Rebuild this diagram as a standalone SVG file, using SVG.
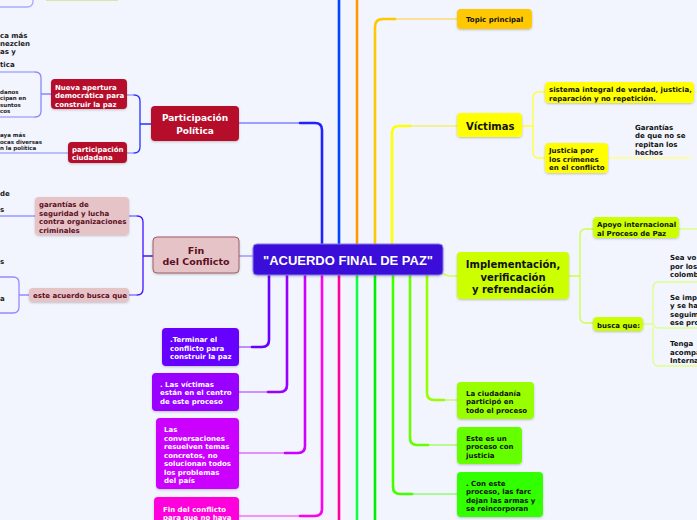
<svg xmlns="http://www.w3.org/2000/svg" width="697" height="520" viewBox="0 0 697 520">
<defs>
<filter id="sh" x="-10%" y="-10%" width="120%" height="130%"><feDropShadow dx="0" dy="1" stdDeviation="0.8" flood-color="#000" flood-opacity="0.22"/></filter>
</defs>
<style>
.t{font-family:"DejaVu Sans",Verdana,sans-serif;font-weight:bold;font-size:7px;fill:#111}
.w{fill:#fff}
.m{fill:#5b0f1f}
.big{font-size:10px}
.n rect{filter:url(#sh)}
.c{fill:none;stroke-linecap:round}
.k{stroke-width:2.6}
.l{stroke-width:1.4;opacity:.55}
.s{stroke-width:1.3}
.frag{font-family:"DejaVu Sans",Verdana,sans-serif;font-weight:bold;fill:#222}
</style>
<rect width="697" height="520" fill="#f2f5fd"/>

<g id="connectors">
<path class="c k" stroke="#2222ff" d="M322,244 V130 Q322,123 315,123 H300"/>
<path class="c l" stroke="#2222ff" d="M300,123 H239"/>
<path class="c k" stroke="#0044ff" d="M339,244 V0"/>
<path class="c k" stroke="#ff9900" d="M357,244 V0"/>
<path class="c k" stroke="#ffc800" d="M375,244 V27 Q375,19 383,19 H395"/>
<path class="c l" stroke="#ffc800" d="M395,19 H457"/>
<path class="c k" stroke="#ffff00" d="M392,244 V133 Q392,126 399,126 H410"/>
<path class="c l" stroke="#eeee00" d="M410,126 H457"/>
<path class="c s" stroke="#9999ff" d="M239,256 H253"/>
<path class="c s" stroke="#ccff55" d="M440,268 Q443,276 450,276 H457"/>
<path class="c k" stroke="#6600ff" d="M269,275 V340 Q269,347 262,347 H252"/>
<path class="c l" stroke="#6600ff" d="M252,347 H239"/>
<path class="c k" stroke="#9900ff" d="M287,275 V385 Q287,392 280,392 H268"/>
<path class="c l" stroke="#9900ff" d="M268,392 H239"/>
<path class="c k" stroke="#cc00ff" d="M305,275 V446 Q305,453 298,453 H285"/>
<path class="c l" stroke="#cc00ff" d="M285,453 H239"/>
<path class="c k" stroke="#ff00ee" d="M322,275 V509 Q322,516 315,516 H300"/>
<path class="c l" stroke="#ff00ee" d="M300,516 H239"/>
<path class="c k" stroke="#ff0099" d="M339,275 V520"/>
<path class="c k" stroke="#11ff44" d="M357,275 V520"/>
<path class="c k" stroke="#00ee00" d="M375,275 V520"/>
<path class="c k" stroke="#44ff00" d="M393,275 V487 Q393,494 400,494 H412"/>
<path class="c l" stroke="#44ff00" d="M412,494 H457"/>
<path class="c k" stroke="#66ff00" d="M410,275 V438 Q410,445 417,445 H428"/>
<path class="c l" stroke="#66ff00" d="M428,445 H457"/>
<path class="c k" stroke="#99ff00" d="M427,275 V393 Q427,400 434,400 H444"/>
<path class="c l" stroke="#99ff00" d="M444,400 H457"/>
<path class="c s" stroke="#2233ff" d="M151,124 H140 M134,95 Q140,95 140,101 V147 Q140,153 134,153"/>
<path class="c s" stroke="#8888ff" opacity=".8" d="M134,95 H127 M134,153 H127"/>
<path class="c s" stroke="#8888ff" d="M51,94 H41 M35,72 Q41,72 41,78 V111 Q41,117 35,117"/>
<path class="c s" stroke="#aaaaff" d="M35,72 H0 M35,117 H0 M68,153 H0"/>
<path class="c s" stroke="#aaaaff" d="M0,7 H27 Q33,7 33,1 V0"/>
<path class="c s" stroke="#4411ff" d="M153,256 H143 M137,216 Q143,216 143,222 V289 Q143,295 137,295"/>
<path class="c s" stroke="#8877ff" d="M137,216 H129 M137,295 H129"/>
<path class="c s" stroke="#9999ff" d="M35,216 H0"/>
<path class="c s" stroke="#9988ff" d="M29,295 H19 M0,277 H13 Q19,277 19,283 V307 Q19,313 13,313 H0"/>
<path class="c s" stroke="#ffff33" d="M522,126 H533 M539,92 Q533,92 533,98 V152 Q533,158 539,158 H545 M539,92 H545"/>
<path class="c s" stroke="#ffff88" d="M694,92 H697 M608,158 H690"/>
<path class="c s" stroke="#ccff44" d="M569,276 H580 M586,229 Q580,229 580,235 V317 Q580,323 586,323 H593 M586,229 H593"/>
<path class="c s" stroke="#ddff88" d="M679,229 H697 M643,324 H653 M659,282 Q653,282 653,288 V322 Q653,328 659,328 H697 M653,328 V360 Q653,366 659,366 H697 M659,282 H697"/>
</g>

<rect x="46" y="-6" width="72" height="7" fill="#d9e6a6"/>

<g id="central" class="n">
<rect x="253" y="244" width="190" height="31" rx="4" fill="#3a10d8" stroke="#8676f2" stroke-width="1"/>
<text x="348" y="264.5" text-anchor="middle" font-family="'Liberation Sans',Arial,sans-serif" font-weight="bold" font-size="13" fill="#fff">"ACUERDO FINAL DE PAZ"</text>
</g>

<g id="participacion-politica" class="n">
<rect x="151" y="106" width="88" height="35" rx="4" fill="#b5092a"/>
<text class="t w" text-anchor="middle"><tspan x="195" y="120.5" style="font-size:9px">Participación</tspan><tspan x="195" y="133.5" style="font-size:9px">Política</tspan></text>
</g>

<g id="nueva-apertura" class="n">
<rect x="51" y="79" width="76" height="30" rx="4" fill="#b5092a"/>
<text class="t w"><tspan x="55" y="89.5">Nueva apertura</tspan><tspan x="55" y="98">democrática para</tspan><tspan x="55" y="106.5">construir la paz</tspan></text>
</g>

<g id="participacion-ciudadana" class="n">
<rect x="68" y="142" width="59" height="21" rx="4" fill="#b5092a"/>
<text class="t w"><tspan x="72" y="152">participación</tspan><tspan x="72" y="160">ciudadana</tspan></text>
</g>

<g id="fin-del-conflicto" class="n">
<rect x="153" y="237" width="86" height="36" rx="4" fill="#e6c3c7" stroke="#9d5c68" stroke-width="1"/>
<text class="t m" text-anchor="middle"><tspan x="196" y="253.5" style="font-size:9.5px">Fin</tspan><tspan x="196" y="265" style="font-size:9.5px">del Conflicto</tspan></text>
</g>

<g id="garantias" class="n">
<rect x="35" y="197" width="94" height="38" rx="4" fill="#e6c3c7"/>
<text class="t m"><tspan x="39" y="207">garantías de</tspan><tspan x="39" y="215.5">seguridad y lucha</tspan><tspan x="39" y="224">contra organizaciones</tspan><tspan x="39" y="232.5">criminales</tspan></text>
</g>

<g id="este-acuerdo" class="n">
<rect x="29" y="288" width="100" height="14" rx="4" fill="#e6c3c7"/>
<text class="t m" x="33" y="298">este acuerdo busca que</text>
</g>

<g id="fragments">
<text class="frag" font-size="7"><tspan x="0" y="38">ca más</tspan><tspan x="0" y="46">nezclen</tspan><tspan x="0" y="53.5">as y</tspan><tspan x="0" y="67">tica</tspan></text>
<text class="frag" font-size="5.5"><tspan x="0" y="93.5">danos</tspan><tspan x="0" y="100">cipan en</tspan><tspan x="0" y="107">suntos</tspan><tspan x="0" y="113">cos</tspan></text>
<text class="frag" font-size="5.5"><tspan x="0" y="137">aya más</tspan><tspan x="0" y="143.5">ocas diversas</tspan><tspan x="0" y="150">n la política</tspan></text>
<text class="frag" font-size="7"><tspan x="0" y="196">de</tspan><tspan x="0" y="212">s</tspan><tspan x="0" y="263.5">s</tspan><tspan x="0" y="301">a</tspan></text>
</g>

<g id="terminar" class="n">
<rect x="162" y="328" width="77" height="38" rx="4" fill="#6600ff"/>
<text class="t w"><tspan x="170" y="342">.Terminar el</tspan><tspan x="170" y="350.5">conflicto para</tspan><tspan x="170" y="359">construir la paz</tspan></text>
</g>

<g id="las-victimas" class="n">
<rect x="152" y="373" width="87" height="38" rx="4" fill="#9900ff"/>
<text class="t w"><tspan x="160" y="386.5">. Las víctimas</tspan><tspan x="160" y="395">están en el centro</tspan><tspan x="160" y="403.5">de este proceso</tspan></text>
</g>

<g id="conversaciones" class="n">
<rect x="156" y="418" width="83" height="71" rx="4" fill="#cc00ff"/>
<text class="t w"><tspan x="164" y="432">Las</tspan><tspan x="164" y="440.5">conversaciones</tspan><tspan x="164" y="449">resuelven temas</tspan><tspan x="164" y="457.5">concretos, no</tspan><tspan x="164" y="466">solucionan todos</tspan><tspan x="164" y="474.5">los problemas</tspan><tspan x="164" y="483">del país</tspan></text>
</g>

<g id="fin-conflicto-haya" class="n">
<rect x="154" y="497" width="85" height="40" rx="4" fill="#ff00dd"/>
<text class="t w"><tspan x="163" y="511.5">Fin del conflicto</tspan><tspan x="163" y="520">para que no haya</tspan></text>
</g>

<g id="topic-principal" class="n">
<rect x="457" y="9" width="75" height="20" rx="4" fill="#ffc800"/>
<text class="t" x="466" y="22">Topic principal</text>
</g>

<g id="victimas" class="n">
<rect x="457" y="113" width="65" height="24" rx="4" fill="#ffff00"/>
<text class="t big" x="466" y="129.5">Víctimas</text>
</g>

<g id="sistema-integral" class="n">
<rect x="545" y="82" width="149" height="21" rx="4" fill="#ffff00"/>
<text class="t"><tspan x="549" y="92">sistema integral de verdad, justicia,</tspan><tspan x="549" y="100.5">reparación y no repetición.</tspan></text>
</g>

<g id="justicia" class="n">
<rect x="545" y="143" width="63" height="30" rx="4" fill="#ffff00"/>
<text class="t"><tspan x="549" y="153">Justicia por</tspan><tspan x="549" y="161.5">los crímenes</tspan><tspan x="549" y="170">en el conflicto</tspan></text>
</g>

<g id="garantias-no-repeticion">
<text class="t"><tspan x="635" y="129.5">Garantías</tspan><tspan x="635" y="138">de que no se</tspan><tspan x="635" y="146.5">repitan los</tspan><tspan x="635" y="155">hechos</tspan></text>
</g>

<g id="implementacion" class="n">
<rect x="457" y="252" width="112" height="47" rx="4" fill="#ccff00"/>
<text class="t big" text-anchor="middle"><tspan x="513" y="268">Implementación,</tspan><tspan x="513" y="280.5">verificación</tspan><tspan x="513" y="293">y refrendación</tspan></text>
</g>

<g id="apoyo" class="n">
<rect x="593" y="217" width="86" height="21" rx="4" fill="#ccff00"/>
<text class="t"><tspan x="597" y="227">Apoyo internacional</tspan><tspan x="597" y="235.5">al Proceso de Paz</tspan></text>
</g>

<g id="busca-que" class="n">
<rect x="593" y="317" width="50" height="14" rx="4" fill="#ccff00"/>
<text class="t" x="597" y="327.5">busca que:</text>
</g>

<g id="busca-hijos">
<text class="t"><tspan x="670" y="260">Sea vo</tspan><tspan x="670" y="268.5">por los</tspan><tspan x="670" y="277">colomb</tspan></text>
<text class="t"><tspan x="670" y="299.5">Se impl</tspan><tspan x="670" y="308">y se ha</tspan><tspan x="670" y="316.5">seguim</tspan><tspan x="670" y="325">ese pro</tspan></text>
<text class="t"><tspan x="670" y="346">Tenga</tspan><tspan x="670" y="354.5">acompa</tspan><tspan x="670" y="363">Interna</tspan></text>
</g>

<g id="ciudadania" class="n">
<rect x="457" y="382" width="77" height="37" rx="4" fill="#99ff00"/>
<text class="t"><tspan x="466" y="395.5">La ciudadanía</tspan><tspan x="466" y="404">participó en</tspan><tspan x="466" y="412.5">todo el proceso</tspan></text>
</g>

<g id="justicia-proceso" class="n">
<rect x="457" y="427" width="65" height="37" rx="4" fill="#66ff00"/>
<text class="t"><tspan x="466" y="440.5">Este es un</tspan><tspan x="466" y="449">proceso con</tspan><tspan x="466" y="457.5">justicia</tspan></text>
</g>

<g id="farc" class="n">
<rect x="457" y="472" width="86" height="45" rx="4" fill="#33ff00"/>
<text class="t"><tspan x="466" y="485.5">. Con este</tspan><tspan x="466" y="494">proceso, las farc</tspan><tspan x="466" y="502.5">dejan las armas y</tspan><tspan x="466" y="511">se reincorporan</tspan></text>
</g>
</svg>
